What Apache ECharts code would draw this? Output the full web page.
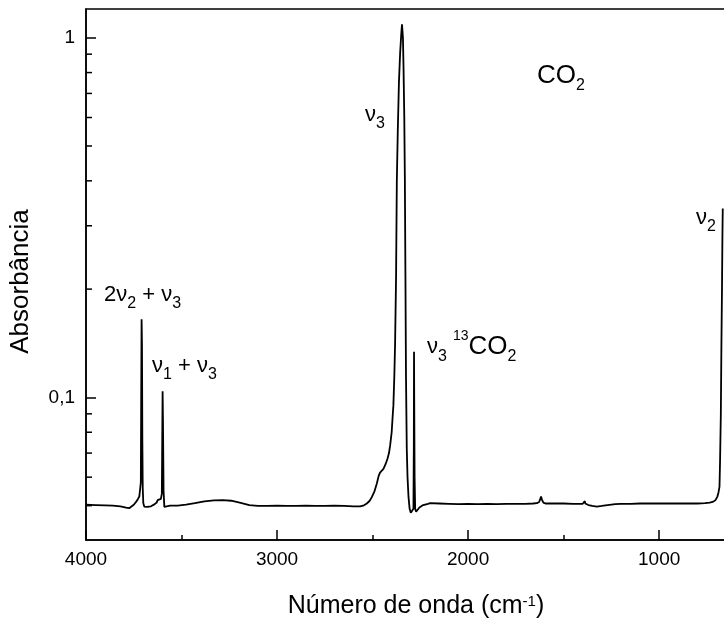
<!DOCTYPE html>
<html>
<head>
<meta charset="utf-8">
<script src="https://cdn.jsdelivr.net/npm/echarts@6/dist/echarts.min.js"></script>
<style>html,body{margin:0;padding:0;background:#fff;}#chart{width:724px;height:622px;}</style>
</head>
<body>
<div id="chart"></div>
<script>
// ---- data ----
const wavenumber = [
  4000, 3950, 3900, 3860, 3820, 3790, 3774, 3764, 3750, 3738, 3728, 3721, 3716, 3713, 3711, 3709, 3707, 3705, 3703, 3700,
  3695, 3680, 3660, 3642, 3630, 3625, 3618, 3608, 3603, 3601, 3599, 3597, 3594, 3590, 3586, 3578, 3560, 3520, 3476, 3430,
  3380, 3330, 3284, 3240, 3190, 3145, 3100, 3050, 3000, 2950, 2900, 2850, 2800, 2750, 2700, 2650, 2600, 2565, 2545, 2530,
  2515, 2504, 2490, 2478, 2468, 2461, 2452, 2443, 2432, 2422, 2414, 2408, 2400, 2394, 2391, 2386, 2382, 2377, 2373, 2368,
  2362, 2356, 2350, 2346, 2344, 2341, 2338, 2334, 2331, 2328, 2325, 2321, 2317, 2312, 2306, 2300, 2295, 2290, 2286, 2284,
  2283, 2282, 2280, 2277, 2272, 2265, 2255, 2245, 2235, 2225, 2210, 2199, 2150, 2100, 2050, 2000, 1950, 1900, 1850, 1800,
  1750, 1700, 1660, 1640, 1628, 1622, 1618, 1614, 1606, 1595, 1560, 1500, 1450, 1400, 1391, 1389, 1387, 1370, 1350, 1326,
  1300, 1270, 1230, 1200, 1150, 1100, 1050, 1000, 950, 900, 850, 800, 760, 735, 716, 705, 695, 689, 684, 681,
  677, 674, 671, 669, 667
];
const absorbance = [
  0.0503, 0.0502, 0.0501, 0.0500, 0.0498, 0.0494, 0.0492, 0.0496, 0.0503, 0.0512, 0.0522, 0.0530, 0.0560, 0.0580, 0.100, 0.165, 0.140, 0.075, 0.056, 0.0508,
  0.0497, 0.0496, 0.0498, 0.0504, 0.0510, 0.0518, 0.0514, 0.0522, 0.0540, 0.075, 0.104, 0.085, 0.055, 0.0496, 0.0493, 0.0498, 0.0500, 0.0500, 0.0503, 0.0508,
  0.0514, 0.0517, 0.0518, 0.0516, 0.0509, 0.0502, 0.0499, 0.0499, 0.0500, 0.0499, 0.0499, 0.0500, 0.0499, 0.0499, 0.0500, 0.0499, 0.0498, 0.0498, 0.0501, 0.0507,
  0.0516, 0.0528, 0.0548, 0.0575, 0.0605, 0.0618, 0.0625, 0.0633, 0.0652, 0.0675, 0.0700, 0.0735, 0.0800, 0.0900, 0.0950, 0.115, 0.142, 0.216, 0.40, 0.55,
  0.75, 0.90, 1.02, 1.09, 1.10, 1.00, 0.83, 0.60, 0.41, 0.22, 0.114, 0.072, 0.060, 0.053, 0.0490, 0.0478, 0.0476, 0.0480, 0.0490, 0.075,
  0.134, 0.100, 0.060, 0.0490, 0.0481, 0.0486, 0.0494, 0.0499, 0.0502, 0.0504, 0.0506, 0.0508, 0.0507, 0.0506, 0.0505, 0.0506, 0.0505, 0.0506, 0.0505, 0.0506,
  0.0506, 0.0506, 0.0507, 0.0508, 0.0512, 0.0522, 0.0530, 0.0520, 0.0510, 0.0507, 0.0507, 0.0507, 0.0506, 0.0506, 0.0508, 0.0515, 0.0507, 0.0502, 0.0499, 0.0497,
  0.0499, 0.0502, 0.0505, 0.0506, 0.0506, 0.0507, 0.0507, 0.0507, 0.0507, 0.0507, 0.0507, 0.0507, 0.0508, 0.0510, 0.0513, 0.0518, 0.0530, 0.0545, 0.0565, 0.067,
  0.090, 0.14, 0.20, 0.27, 0.335
];
const xRange = [650, 4000];
const yRange = [0.04013, 1.2018];
const yMinorTicks = [0.05, 0.06, 0.07, 0.08, 0.09, 0.2, 0.3, 0.4, 0.5, 0.6, 0.7, 0.8, 0.9];
const xTitle = 'Número de onda (cm{sup|-1})';
const yTitle = 'Absorbância';

// ---- chart ----
const FONT = '"Liberation Sans", Arial, sans-serif';
const chart = echarts.init(document.getElementById('chart'), null, {renderer: 'canvas'});
const spectrum = wavenumber.map((w, i) => [w, absorbance[i]]);

const annot = (x, y, text) => ({
  type: 'text', x: x, y: y, z: 100,
  style: {
    text: text,
    fill: '#000',
    rich: {
      b: {fontSize: 22, fontFamily: FONT, color: '#000', lineHeight: 34, verticalAlign: 'middle'},
      c: {fontSize: 26, fontFamily: FONT, color: '#000', lineHeight: 36, verticalAlign: 'middle'},
      s: {fontSize: 16, fontFamily: FONT, color: '#000', verticalAlign: 'bottom'},
      p: {fontSize: 14, fontFamily: FONT, color: '#000', verticalAlign: 'top'}
    }
  }
});

chart.setOption({
  animation: false,
  backgroundColor: '#fff',
  grid: {left: 86, top: 9, right: -2, bottom: 82, show: true, borderColor: '#000', borderWidth: 1.5,
    containLabel: false, outerBoundsMode: 'none'},
  xAxis: {
    type: 'value', inverse: true, min: xRange[0], max: xRange[1], splitNumber: 3,
    axisLine: {lineStyle: {color: '#000', width: 1.5}},
    axisTick: {inside: true, length: 10, lineStyle: {color: '#000', width: 1.5}},
    minorTick: {show: true, splitNumber: 2, length: 5, lineStyle: {color: '#000', width: 1.5}},
    splitLine: {show: false},
    axisLabel: {showMinLabel: false, color: '#000', fontSize: 19, fontFamily: FONT, margin: 10,
      formatter: v => String(v)},
    name: xTitle, nameLocation: 'middle', nameGap: 54,
    nameTextStyle: {color: '#000', fontSize: 25, fontFamily: FONT, padding: [0, 0, 0, 20],
      rich: {sup: {fontSize: 15, fontFamily: FONT, color: '#000', verticalAlign: 'top'}}}
  },
  yAxis: {
    type: 'log', logBase: 10, min: yRange[0], max: yRange[1],
    axisLine: {lineStyle: {color: '#000', width: 1.5}},
    axisTick: {inside: true, length: 10, lineStyle: {color: '#000', width: 1.5}},
    minorTick: {show: false},
    splitLine: {show: false},
    axisLabel: {showMinLabel: false, showMaxLabel: false, color: '#000', fontSize: 19, fontFamily: FONT, margin: 11,
      formatter: v => String(+v.toPrecision(6)).replace('.', ',')},
    name: yTitle, nameLocation: 'middle', nameGap: 52,
    nameTextStyle: {color: '#000', fontSize: 26, fontFamily: FONT, padding: [0, 14, 0, 0]}
  },
  series: [
    {
      type: 'line', data: spectrum, showSymbol: false, symbol: 'none',
      lineStyle: {color: '#000', width: 1.8}, clip: true
    },
    {
      type: 'custom',
      data: yMinorTicks.map(v => [xRange[1], v]),
      renderItem: (params, api) => {
        const p = api.coord([api.value(0), api.value(1)]);
        return {type: 'line', shape: {x1: p[0], y1: p[1], x2: p[0] + 6, y2: p[1]},
          style: {stroke: '#000', lineWidth: 1.5}};
      },
      clip: false, silent: true
    }
  ],
  graphic: [
    annot(537, 58, '{c|CO}{s|2}'),
    annot(365, 98, '{b|ν}{s|3}'),
    annot(104, 278, '{b|2ν}{s|2}{b| + ν}{s|3}'),
    annot(152, 349, '{b|ν}{s|1}{b| + ν}{s|3}'),
    annot(427, 329, '{b|ν}{s|3}{b| }{p|13}{c|CO}{s|2}'),
    annot(696, 201, '{b|ν}{s|2}')
  ]
});
</script>
</body>
</html>
